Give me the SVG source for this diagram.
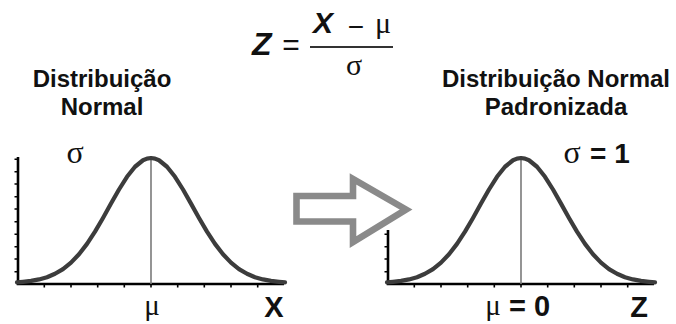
<svg xmlns="http://www.w3.org/2000/svg" xmlns:xlink="http://www.w3.org/1999/xlink" width="676" height="324" viewBox="0 0 676 324">
<style>
.t{font-family:"Liberation Sans",Arial,sans-serif;font-weight:bold;fill:#111}
.g{font-family:"Liberation Serif","Times New Roman",serif;fill:#111}
.ax{stroke:#000;stroke-width:2.6;fill:none}
.tk{stroke:#000;stroke-width:1.6;fill:none}
.bell{stroke:#3c3c3c;stroke-width:4.2;fill:none;stroke-linejoin:round;stroke-linecap:round}
.mid{stroke:#7a7a7a;stroke-width:1.6}
</style>
<defs>
<path id="bell" d="M-134,282.4 L-128,281.8 L-120,280.9 L-112,279.4 L-104,277.2 L-96,273.8 L-88,269.1 L-80,262.6 L-72,254.2 L-64,243.85 L-56,231.6 L-48,217.95 L-40,203.6 L-32,189.5 L-24,176.8 L-16,166.75 L-8,160.25 L-4,158.6 L0,158 L4,158.6 L8,160.25 L16,166.75 L24,176.8 L32,189.5 L40,203.6 L48,217.95 L56,231.6 L64,243.85 L72,254.2 L80,262.6 L88,269.1 L96,273.8 L104,277.2 L112,279.4 L120,280.9 L128,281.8 L134,282.4"/>
<path id="xticks" d="M-106.7,284 v3.5 M-80,284 v3.5 M-53.3,284 v3.5 M-26.7,284 v3.5 M0,284 v3.5 M26.7,284 v3.5 M53.3,284 v3.5 M80,284 v3.5 M106.7,284 v3.5"/>
</defs>

<g id="formula">
<text class="t" x="252" y="55" font-size="32" font-style="italic">Z</text>
<text x="291" y="55" font-size="30" text-anchor="middle" font-family="Liberation Sans, Arial, sans-serif" fill="#111">=</text>
<text class="t" x="313" y="33" font-size="30" font-style="italic">X</text>
<text x="356" y="36" font-size="28" text-anchor="middle" font-family="Liberation Sans, Arial, sans-serif" fill="#111">−</text>
<text class="g" x="383" y="33" font-size="30" text-anchor="middle">μ</text>
<line x1="310" y1="47" x2="393" y2="47" stroke="#333" stroke-width="2"/>
<text class="g" x="354" y="75" font-size="30" text-anchor="middle">σ</text>
</g>

<g id="title-left">
<text class="t" x="102" y="87" font-size="24" text-anchor="middle">Distribuição</text>
<text class="t" x="102" y="115" font-size="24" text-anchor="middle">Normal</text>
</g>

<g id="title-right">
<text class="t" x="556" y="87" font-size="24" text-anchor="middle">Distribuição Normal</text>
<text class="t" x="556" y="115" font-size="24" text-anchor="middle">Padronizada</text>
</g>

<g id="chart-left">
<path class="ax" d="M18,157 V284 H284"/>
<path class="tk" d="M14.5,159.3 h3.5 M14.5,171.7 h3.5 M14.5,184 h3.5 M14.5,196.7 h3.5 M14.5,209 h3.5 M14.5,221.7 h3.5 M14.5,234.3 h3.5 M14.5,246.7 h3.5 M14.5,259 h3.5 M14.5,271.7 h3.5"/>
<use xlink:href="#xticks" href="#xticks" class="tk" transform="translate(151,0)"/>
<line class="mid" x1="151" y1="160" x2="151" y2="284"/>
<use xlink:href="#bell" href="#bell" class="bell" transform="translate(151,0)"/>
<text class="g" x="75" y="163" font-size="32" text-anchor="middle">σ</text>
<text class="g" x="152" y="315" font-size="29" text-anchor="middle">μ</text>
<text class="t" x="274" y="317" font-size="29" text-anchor="middle">X</text>
</g>

<g id="chart-right">
<path class="ax" d="M388,230 V284 H654"/>
<path class="tk" d="M384.5,234.3 h3.5 M384.5,246.7 h3.5 M384.5,259 h3.5 M384.5,271.7 h3.5"/>
<use xlink:href="#xticks" href="#xticks" class="tk" transform="translate(521,0)"/>
<line class="mid" x1="521" y1="160" x2="521" y2="284"/>
<use xlink:href="#bell" href="#bell" class="bell" transform="translate(521,0)"/>
<text class="g" x="572" y="163" font-size="32" text-anchor="middle">σ</text>
<text class="t" x="590" y="163" font-size="28">= 1</text>
<text class="g" x="493" y="315" font-size="29" text-anchor="middle">μ</text>
<text class="t" x="509" y="316" font-size="29">= 0</text>
<text class="t" x="639" y="317" font-size="29" text-anchor="middle">Z</text>
</g>

<g id="connectors">
<polygon points="296.5,196 353,196 353,179 406,209.5 353,242 353,221.5 296.5,221.5" fill="#fff" stroke="#8a8a8a" stroke-width="6.6" stroke-linejoin="miter"/>
</g>
</svg>
